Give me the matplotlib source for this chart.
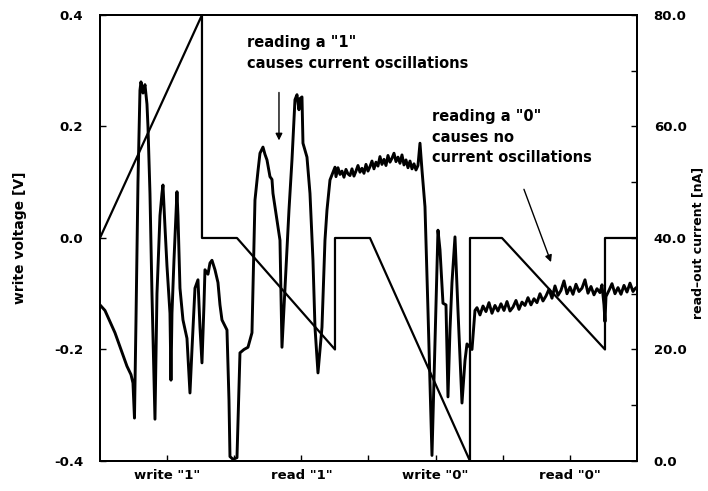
import numpy as np
from matplotlib import pyplot as plt
from matplotlib.ticker import FormatStrFormatter

# x axis: acquisition sample index (no numeric labels on the original)
volt_t = [0, 102, 102, 137, 235, 235, 270, 370, 370, 402, 505, 505, 537]
volt_v = [0.0, 0.4, 0.0, 0.0, -0.2, 0.0, 0.0, -0.4, 0.0, 0.0, -0.2, 0.0, 0.0]

cur_t = [0, 5, 10, 15, 20, 27, 31, 33, 34.5, 36, 38, 40, 41, 43, 45, 47, 48, 50, 52, 55,
         57, 60, 62, 63, 65, 67, 70, 71, 72, 74, 77, 78, 80, 83, 87, 90, 92, 95, 98, 100,
         102, 104, 105, 108, 110, 112, 115, 118, 120, 122, 127, 129, 130, 133, 137, 140, 144, 148, 152, 155,
         158, 160, 163, 165, 167, 170, 172, 173, 175, 178, 180, 182, 185, 189, 192, 195, 197, 199, 200, 202,
         203, 207, 210, 213, 215, 218, 222, 225, 227, 230, 235,
         236, 238, 240, 242, 244, 246, 248, 250, 252, 254, 256, 258, 260, 262, 264, 266, 268, 270,
         272, 274, 276, 278, 280, 282, 284, 286, 288, 290, 292, 294, 296, 298, 300, 302, 304, 306,
         308, 310, 312, 314, 316, 318, 320, 322, 325, 328, 332, 335, 338, 340, 343, 346, 348, 350,
         352, 355, 358, 362, 365, 367, 372, 375,
         377, 380, 383, 386, 389, 392, 395, 398, 401, 404, 407, 410, 413, 416, 419, 422, 425, 428,
         431, 434, 437, 440, 443, 446, 449, 452, 455, 458, 461, 464, 467, 470, 473, 476, 479, 482,
         485, 488, 491, 494, 497, 500, 502, 504, 505, 506, 509, 512, 515, 518, 521, 524, 527, 530,
         533, 535, 537]
cur_nA = [28.0, 27.0, 25.0, 23.0, 20.5, 17.0, 15.5, 14.0, 7.7, 25.0, 50.0, 66.5, 68.0, 66.0, 67.5, 64.0, 60.0, 48.0, 30.0, 7.5,
          30.0, 44.0, 48.0, 49.5, 42.0, 35.0, 26.5, 14.5, 26.5, 36.0, 48.3, 44.0, 31.0, 25.3, 22.0, 12.2, 20.0, 31.0, 32.5, 24.0,
          17.6, 28.0, 34.3, 33.5, 35.5, 36.0, 34.3, 32.0, 28.0, 25.3, 23.5, 11.0, 0.8, 0.3, 0.6, 19.4, 20.0, 20.4, 23.0, 46.8,
          52.0, 55.2, 56.3, 55.0, 54.0, 51.0, 50.5, 48.0, 45.6, 42.0, 39.6, 20.4, 31.0, 45.0, 54.0, 64.8, 65.7, 63.0, 65.0, 65.3,
          57.0, 54.5, 48.0, 36.0, 24.0, 15.8, 24.0, 39.6, 45.0, 50.4, 52.7,
          51.0, 52.6, 51.4, 52.0, 50.9, 52.3, 51.5, 51.2, 52.4, 51.1, 52.0, 53.0, 51.8, 52.5, 51.6, 53.2, 52.0, 52.8,
          53.8, 52.4, 53.6, 52.9, 54.6, 53.2, 54.1, 53.0, 54.8, 53.6, 54.3, 55.2, 53.7, 54.5, 53.4, 54.9, 53.1, 54.0,
          52.6, 53.8, 52.4, 53.3, 52.2, 53.0, 57.0, 52.2, 45.6, 27.0, 1.0, 21.0, 41.4, 37.9, 28.3, 28.0, 11.5, 23.5,
          32.0, 40.2, 27.0, 10.4, 18.0, 21.0, 20.0, 27.0,
          27.5, 26.2, 27.8, 26.8, 28.4, 26.5, 27.9, 26.9, 28.2, 27.0, 28.6, 26.9, 27.6, 28.8, 27.2, 28.5, 27.9, 29.3,
          28.0, 29.1, 28.4, 30.0, 28.7, 29.6, 30.8, 29.2, 31.4, 29.7, 30.6, 32.3, 30.0, 31.2, 29.9, 31.7, 30.4, 31.0,
          32.5, 30.1, 31.3, 29.8, 30.9, 30.2, 31.6, 28.0, 25.0, 29.5, 30.6, 31.8, 30.0, 31.1, 29.9, 31.5, 30.3, 31.9,
          30.4, 30.9, 31.2]

tick_labels = ['write "1"', '', 'read "1"', '', 'write "0"', '', 'read "0"']

plt.rcParams['font.family'] = 'DejaVu Sans'
plt.rcParams['font.weight'] = 'bold'
plt.rcParams['axes.labelweight'] = 'bold'
plt.rcParams['font.size'] = 9.5

fig = plt.figure(figsize=(7.08, 4.91), dpi=100)
ax = fig.add_axes([0.1412, 0.0611, 0.7585, 0.9084])
ax2 = ax.twinx()

ax.plot(volt_t, volt_v, color='black', lw=1.6)
ax2.plot(cur_t, cur_nA, color='black', lw=2.1)

ax.set_xlim(0, 537)
ax.set_ylim(-0.4, 0.4)
ax2.set_ylim(0, 80)

ax.set_xticks(np.linspace(0, 537, 9)[1:-1])
ax.set_xticklabels(tick_labels)
ax.set_yticks([-0.4, -0.2, 0.0, 0.2, 0.4])
ax.yaxis.set_major_formatter(FormatStrFormatter('%.1f'))
ax2.set_yticks([0, 20, 40, 60, 80])
ax2.set_yticks([10, 30, 50, 70], minor=True)
ax2.yaxis.set_major_formatter(FormatStrFormatter('%.1f'))

ax.tick_params(direction='in', length=4, width=1, pad=6)
ax.tick_params(axis='y', pad=12)
ax2.tick_params(which='both', direction='in', length=4, width=1, pad=12)
for a in (ax, ax2):
    for s in a.spines.values():
        s.set_linewidth(1.4)

ax.set_ylabel('write voltage [V]', fontsize=10)
ax.yaxis.set_label_coords(-0.136, 0.5)
ax2.set_ylabel('read\u2013out current [nA]', fontsize=9)
ax2.yaxis.set_label_coords(1.102, 0.49)

ax2.text(147, 73.2, 'reading a "1"\ncauses current oscillations', ha='left', va='center',
         fontsize=10.5, linespacing=1.45)
ax2.annotate('', xy=(179, 57.0), xytext=(179, 66.6),
             arrowprops=dict(arrowstyle='-|>', color='black', lw=1, mutation_scale=10))
ax2.text(332, 58.1, 'reading a "0"\ncauses no\ncurrent oscillations', ha='left', va='center',
         fontsize=10.5, linespacing=1.45)
ax2.annotate('', xy=(452, 35.2), xytext=(423, 49.2),
             arrowprops=dict(arrowstyle='-|>', color='black', lw=1, mutation_scale=10))

plt.savefig('out.png', dpi=100)
